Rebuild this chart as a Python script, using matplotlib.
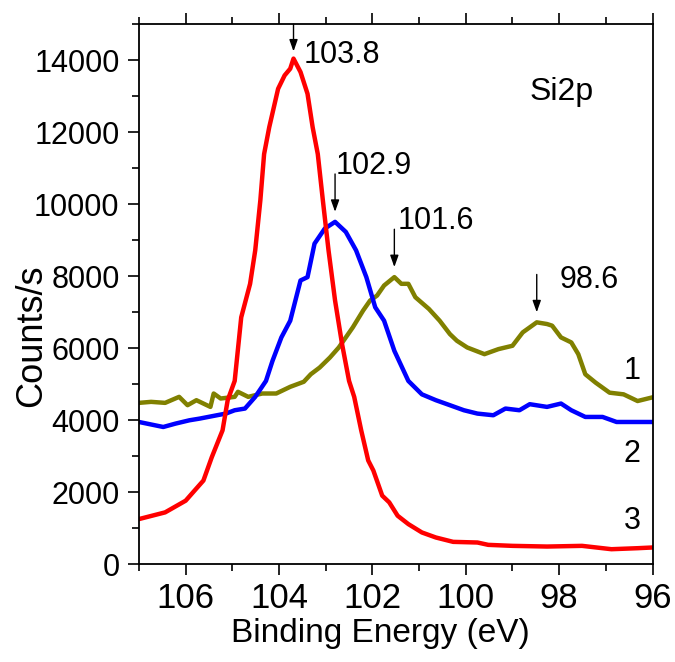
import matplotlib.pyplot as plt
import numpy as np
from matplotlib.ticker import MultipleLocator

plt.rcParams["font.family"] = ["Liberation Sans", "DejaVu Sans"]

# spectrum 1 (olive)
be_1 = [107.0, 106.74, 106.44, 106.14, 105.96, 105.77, 105.47, 105.40, 105.25,
        104.95, 104.88, 104.66, 104.36, 104.06, 103.76, 103.47, 103.32, 103.13,
        102.91, 102.72, 102.42, 102.20, 102.05, 101.90, 101.75, 101.53, 101.38,
        101.23, 101.08, 100.79, 100.56, 100.34, 100.19, 99.97, 99.60, 99.30,
        99.00, 98.78, 98.48, 98.26, 98.15, 97.96, 97.74, 97.59, 97.44, 97.22,
        96.92, 96.62, 96.32, 96.03]
counts_1 = [4484, 4512, 4484, 4651, 4419, 4558, 4372, 4744, 4605, 4651, 4791,
            4651, 4744, 4744, 4930, 5070, 5279, 5465, 5744, 6023, 6581, 7047,
            7326, 7465, 7744, 7977, 7791, 7791, 7419, 7093, 6767, 6395, 6209,
            6023, 5837, 5977, 6070, 6442, 6721, 6674, 6628, 6302, 6163, 5837,
            5279, 5047, 4767, 4721, 4535, 4628]

# spectrum 2 (blue)
be_2 = [107.0, 106.48, 106.22, 105.92, 105.70, 105.33, 105.14, 104.95, 104.73,
        104.51, 104.28, 104.14, 103.95, 103.76, 103.54, 103.39, 103.24, 103.02,
        102.80, 102.57, 102.35, 102.13, 101.94, 101.75, 101.53, 101.23, 100.94,
        100.64, 100.34, 100.04, 99.75, 99.41, 99.15, 98.85, 98.63, 98.26, 97.96,
        97.74, 97.44, 97.07, 96.77, 96.47, 96.03]
counts_2 = [3953, 3814, 3907, 4000, 4047, 4140, 4186, 4279, 4326, 4651, 5093,
            5651, 6302, 6767, 7884, 7977, 8907, 9326, 9512, 9233, 8721, 7977,
            7140, 6767, 5930, 5093, 4721, 4558, 4419, 4279, 4186, 4140, 4326,
            4279, 4447, 4372, 4465, 4279, 4093, 4093, 3953, 3953, 3953]

# spectrum 3 (red)
be_3 = [107.0, 106.44, 106.0, 105.81, 105.62, 105.44, 105.21, 105.10, 104.95,
        104.81, 104.62, 104.51, 104.40, 104.32, 104.21, 104.02, 103.88, 103.76,
        103.69, 103.54, 103.39, 103.28, 103.17, 103.06, 102.94, 102.80, 102.65,
        102.50, 102.39, 102.24, 102.09, 101.98, 101.79, 101.64, 101.46, 101.23,
        100.94, 100.64, 100.27, 99.75, 99.52, 99.00, 98.26, 97.51, 96.88, 96.32,
        96.03]
counts_3 = [1256, 1442, 1767, 2047, 2326, 2977, 3721, 4558, 5093, 6860, 7791,
            8721, 10116, 11395, 12140, 13209, 13581, 13767, 14047, 13674, 13070,
            12140, 11395, 10093, 8721, 7326, 6116, 5093, 4651, 3721, 2884, 2605,
            1907, 1721, 1349, 1116, 884, 744, 623, 605, 540, 512, 493, 512, 419,
            447, 465]

peak_labels = ["103.8", "102.9", "101.6", "98.6"]
curve_labels = ["1", "2", "3"]


def peak_in(be, counts, lo, hi):
    be = np.asarray(be)
    counts = np.asarray(counts)
    m = (be >= lo) & (be <= hi)
    i = np.argmax(counts[m])
    return be[m][i], counts[m][i]


fig = plt.figure(figsize=(6.75, 6.62), dpi=100)
ax = fig.add_axes([0.2059, 0.1476, 0.7608, 0.8157])

ax.plot(be_1, counts_1, color="#808000", lw=3.2)
ax.plot(be_2, counts_2, color="#0000FF", lw=3.2)
ax.plot(be_3, counts_3, color="#FF0000", lw=3.2)

ax.set_xlim(107, 96)
ax.set_ylim(0, 15000)
ax.xaxis.set_major_locator(MultipleLocator(2))
ax.xaxis.set_minor_locator(MultipleLocator(1))
ax.yaxis.set_major_locator(MultipleLocator(2000))
ax.yaxis.set_minor_locator(MultipleLocator(1000))
ax.tick_params(which="both", direction="out", top=True, right=False,
               labeltop=False, width=1.2, labelsize=22)
ax.tick_params(which="major", length=8, pad=6)
ax.tick_params(which="minor", length=5)
ax.tick_params(axis="x", labelsize=25, pad=5)
for s in ax.spines.values():
    s.set_linewidth(1.3)

ax.set_xlabel("Binding Energy (eV)", fontsize=24)
ax.set_ylabel("Counts/s", fontsize=26)
ax.xaxis.set_label_coords(0.471, -0.1)
ax.yaxis.set_label_coords(-0.175, 0.423)

arrow = dict(arrowstyle="-|>,head_length=0.7,head_width=0.25", color="k",
             lw=1.0, shrinkA=0, shrinkB=0, mutation_scale=10)

# arrows point at local maxima of each curve
peaks = [
    peak_in(be_3, counts_3, 103.0, 104.5),
    peak_in(be_2, counts_2, 102.0, 104.0),
    peak_in(be_1, counts_1, 100.5, 102.5),
    peak_in(be_1, counts_1, 97.5, 99.5),
]
text_xy = [(103.47, 14150), (102.78, 11070), (101.46, 9540), (97.98, 7884)]
for (px, py), lab, (tx, ty) in zip(peaks, peak_labels, text_xy):
    tip = py + 200 if lab == "103.8" else py + 280
    tail = 15000 if lab == "103.8" else tip + 1050
    ax.annotate("", xy=(px, tip), xytext=(px, tail), arrowprops=arrow,
                annotation_clip=False)
    ax.text(tx, ty, lab, fontsize=22, ha="left", va="center")

ax.text(98.63, 13116, "Si2p", fontsize=23, ha="left", va="center")
for lab, y in zip(curve_labels, [5372, 3070, 1209]):
    ax.text(96.25, y, lab, fontsize=22, ha="right", va="center")

fig.savefig("out.png", dpi=100)
